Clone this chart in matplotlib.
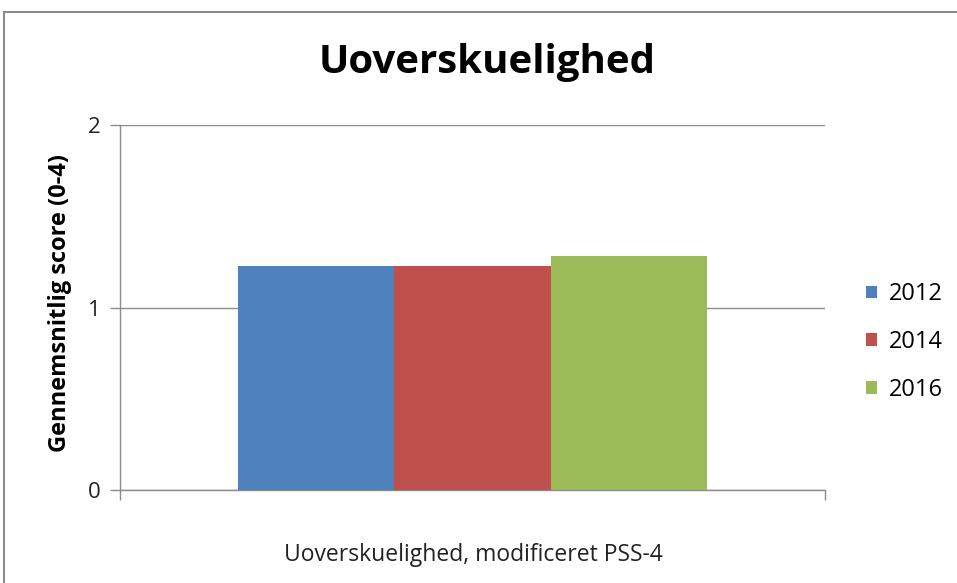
import matplotlib
matplotlib.use("Agg")
import matplotlib.pyplot as plt
from matplotlib.patches import Rectangle

categories = ["Uoverskuelighed, modificeret PSS-4"]
years = ["2012", "2014", "2016"]
values = [1.23, 1.23, 1.28]
colors = ["#4F81BD", "#C0504D", "#9BBB59"]
yticks = [0, 1, 2]

plt.rcParams['font.family'] = ['Open Sans', 'DejaVu Sans']

fig = plt.figure(figsize=(9.57, 5.83), dpi=100)
W, H = 957, 583
ax = fig.add_axes([120 / W, 1 - 490 / H, 705 / W, 365 / H])

bw = 0.222
offsets = [-bw, 0, bw]
for yr, v, c, o in zip(years, values, colors, offsets):
    ax.bar(0.5 + o, v, width=bw, color=c, label=yr, zorder=3)

ax.set_xlim(0, 1)
ax.set_ylim(0, 2)
ax.set_yticks(yticks)
ax.set_yticklabels([str(t) for t in yticks], fontsize=16, color="#222222")
ax.yaxis.grid(True, color="#8c8c8c", linewidth=1, zorder=0)
ax.set_xticks([0, 1])
ax.set_xticklabels(["", ""])
ax.tick_params(axis='y', length=7, color="#8c8c8c", width=1, pad=7)
ax.tick_params(axis='x', length=7, color="#8c8c8c", width=1)
for s in ["top", "right"]:
    ax.spines[s].set_visible(False)
for s in ["left", "bottom"]:
    ax.spines[s].set_color("#8c8c8c")
    ax.spines[s].set_linewidth(1)

fig.text(60 / W, 1 - 303 / H, "Gennemsnitlig score (0-4)", fontsize=17, fontweight="bold",
         rotation=90, ha="center", va="center")
fig.text(473 / W, 1 - 555 / H, categories[0], fontsize=16.5, ha="center", va="center", color="#222222")
fig.text(487 / W, 1 - 63 / H, "Uoverskuelighed", fontsize=29, fontweight="bold", ha="center", va="center")

leg = ax.legend(loc="center left", bbox_to_anchor=(866 / W, 1 - 342 / H), bbox_transform=fig.transFigure,
                frameon=False, fontsize=17, handlelength=0.45, handleheight=0.45, labelspacing=1.0,
                handletextpad=0.5, borderpad=0, borderaxespad=0)

fig.patches.append(Rectangle((4 / W, -0.05), 1.05, 1 - 12 / H + 0.05, transform=fig.transFigure,
                             fill=False, edgecolor="#8c8c8c", linewidth=1.5))

fig.savefig("out.png", dpi=100)
